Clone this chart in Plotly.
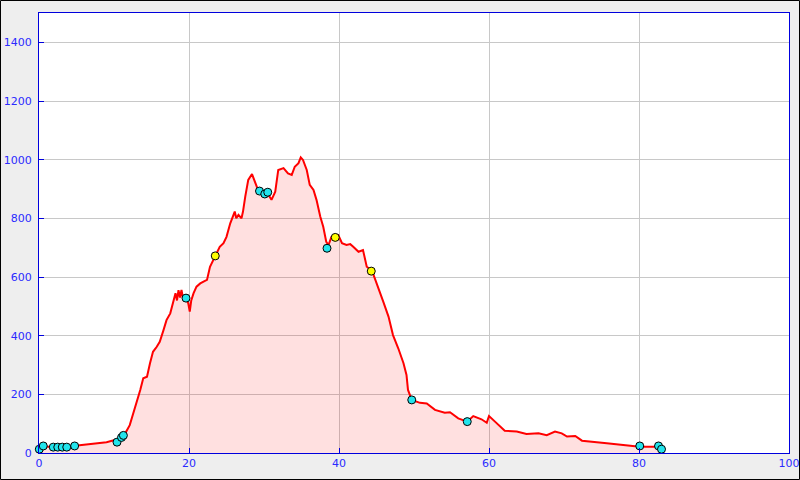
import plotly.graph_objects as go

# Elevation profile (distance in km, elevation in m)
dist_km = [
    0.0, 0.5, 1.2, 2.0, 3.0, 4.0, 4.8, 6.0, 7.5, 9.0,
    10.1, 10.5, 11.0, 11.5, 12.1, 12.6, 13.0, 13.5, 13.9, 14.4,
    14.8, 15.2, 15.7, 16.1, 16.6, 17.0, 17.5, 17.9, 18.2, 18.4,
    18.6, 18.8, 19.0, 19.2, 19.6, 19.9, 20.1, 20.3, 20.6, 21.0,
    21.5, 22.0, 22.4, 22.8, 23.5, 24.1, 24.6, 25.0, 25.5, 26.1,
    26.3, 26.6, 27.0, 27.2, 27.5, 27.9, 28.4, 28.8, 29.2, 29.6,
    29.9, 30.3, 30.6, 31.0, 31.5, 31.9, 32.6, 33.2, 33.7, 34.1,
    34.6, 34.9, 35.2, 35.7, 36.1, 36.6, 37.0, 37.5, 37.9, 38.3,
    38.6, 39.0, 39.5, 39.9, 40.4, 41.0, 41.5, 41.9, 42.6, 43.2,
    43.7, 44.4, 44.6, 45.2, 45.9, 46.6, 47.2, 47.9, 48.6, 49.0,
    49.2, 49.7, 50.8, 51.7, 52.8, 54.1, 54.8, 55.9, 57.1, 57.9,
    59.0, 59.7, 60.0, 60.8, 61.5, 62.1, 63.7, 65.0, 66.6, 67.7,
    68.8, 69.7, 70.4, 71.5, 72.4, 73.9, 75.7, 77.9, 80.1, 82.4,
    83.0,
]
elevation_m = [
    13, 24, 21, 21, 22, 23, 25, 28, 32, 37,
    44, 45, 55, 67, 95, 135, 169, 215, 255, 260,
    306, 345, 362, 379, 419, 453, 476, 521, 545, 520,
    555, 530, 556, 527, 528, 510, 482, 520, 544, 567,
    578, 585, 590, 635, 672, 703, 715, 737, 783, 823,
    800, 812, 800, 823, 874, 931, 951, 925, 897, 890,
    880, 875, 880, 863, 891, 965, 971, 953, 948, 976,
    988, 1008, 999, 965, 914, 897, 863, 806, 771, 720,
    709, 737, 743, 743, 715, 709, 712, 703, 686, 692,
    635, 622, 607, 567, 516, 465, 402, 357, 306, 266,
    215, 181, 171, 169, 147, 137, 139, 118, 107, 126,
    115, 103, 126, 107, 90, 76, 73, 65, 67, 61,
    73, 67, 56, 58, 42, 39, 33, 27, 21, 21,
    13,
]

# Waypoints
cyan_km = [0.04, 0.57, 1.9, 2.5, 3.1, 3.7, 4.75, 10.4, 11.0, 11.25,
           19.6, 29.4, 30.1, 30.5, 38.4, 49.7, 57.1, 80.1, 82.6, 83.0]
cyan_elev = [13, 24, 20, 20, 20, 20, 24, 37, 53, 60,
             528, 893, 883, 889, 698, 181, 107, 24, 24, 13]
yellow_km = [23.5, 39.5, 44.3]
yellow_elev = [672, 735, 620]

x_ticks = [0, 20, 40, 60, 80, 100]
y_ticks = [0, 200, 400, 600, 800, 1000, 1200, 1400]

fig = go.Figure()
fig.add_trace(go.Scatter(
    x=dist_km, y=elevation_m, mode="lines",
    line=dict(color="#ff0000", width=2),
    fill="tozeroy", fillcolor="rgba(255,0,0,0.12)",
    hoverinfo="skip", showlegend=False,
))
fig.add_trace(go.Scatter(
    x=cyan_km, y=cyan_elev, mode="markers",
    marker=dict(size=8, color="#22e4ec", line=dict(color="#000000", width=1)),
    cliponaxis=False, showlegend=False,
))
fig.add_trace(go.Scatter(
    x=yellow_km, y=yellow_elev, mode="markers",
    marker=dict(size=8, color="#ffff00", line=dict(color="#000000", width=1)),
    cliponaxis=False, showlegend=False,
))

axis_common = dict(
    showline=True, linecolor="#0000dd", linewidth=1, mirror=True,
    ticks="inside", ticklen=5, tickcolor="#0000dd",
    showgrid=True, gridcolor="#c8c8c8", gridwidth=1,
    zeroline=False,
    tickfont=dict(family="DejaVu Sans", size=11, color="#2a2aff"),
    automargin=False,
)
fig.update_xaxes(range=[0, 100], tickvals=x_ticks, **axis_common)
fig.update_yaxes(range=[0, 1500], tickvals=y_ticks, ticklabelstandoff=4, **axis_common)

L, R, T, B = 39, 11, 13, 27
W, H = 800, 480
pw, ph = W - L - R, H - T - B
fig.add_shape(
    type="rect", xref="paper", yref="paper",
    x0=-(L - 0.5) / pw, x1=1 + (R - 0.5) / pw,
    y0=-(B - 0.5) / ph, y1=1 + (T - 0.5) / ph,
    line=dict(color="#000000", width=1), fillcolor="rgba(0,0,0,0)",
    layer="above",
)

fig.update_layout(
    width=W, height=H,
    margin=dict(l=L, r=R, t=T, b=B, pad=0),
    paper_bgcolor="#eeeeee", plot_bgcolor="#ffffff",
    showlegend=False,
)

fig.write_html(
    "out.html",
    config={"displayModeBar": False},
    post_script="document.body.style.margin='0';document.body.style.overflow='hidden';",
)
